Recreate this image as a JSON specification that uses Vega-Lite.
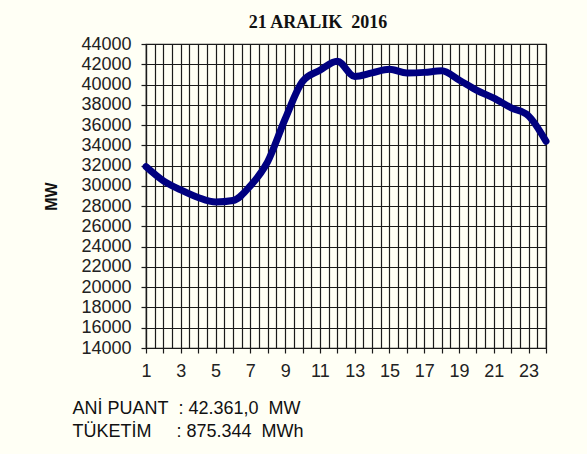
{
  "$schema": "https://vega.github.io/schema/vega-lite/v6.json",
  "width": 400,
  "height": 304,
  "autosize": {"type": "none"},
  "padding": {"left": 146, "top": 44, "right": 41, "bottom": 106},
  "background": "#fffff5",
  "title": {
    "text": "21 ARALIK\u00a0 2016",
    "font": "Liberation Serif",
    "fontSize": 18,
    "fontWeight": "bold",
    "color": "#111111",
    "anchor": "middle",
    "frame": "group",
    "baseline": "alphabetic",
    "dx": -28,
    "dy": 27,
    "offset": 16
  },
  "data": {
    "values": [
      {"hour": 1, "MW": 31900},
      {"hour": 2, "MW": 30500},
      {"hour": 3, "MW": 29600},
      {"hour": 4, "MW": 28850},
      {"hour": 5, "MW": 28400},
      {"hour": 6, "MW": 28550},
      {"hour": 7, "MW": 30000},
      {"hour": 8, "MW": 32400},
      {"hour": 9, "MW": 36600},
      {"hour": 10, "MW": 40300},
      {"hour": 11, "MW": 41400},
      {"hour": 12, "MW": 42300},
      {"hour": 13, "MW": 40800},
      {"hour": 14, "MW": 41150},
      {"hour": 15, "MW": 41500},
      {"hour": 16, "MW": 41150},
      {"hour": 17, "MW": 41200},
      {"hour": 18, "MW": 41350},
      {"hour": 19, "MW": 40450},
      {"hour": 20, "MW": 39450},
      {"hour": 21, "MW": 38650},
      {"hour": 22, "MW": 37700},
      {"hour": 23, "MW": 36900},
      {"hour": 24, "MW": 34400}
    ]
  },
  "mark": {
    "type": "line",
    "interpolate": "monotone",
    "color": "#000080",
    "strokeWidth": 7,
    "strokeCap": "round",
    "strokeJoin": "round"
  },
  "encoding": {
    "x": {
      "field": "hour",
      "type": "quantitative",
      "scale": {"domain": [1, 24], "nice": false, "zero": false},
      "axis": {
        "values": [1, 1.5, 2, 2.5, 3, 3.5, 4, 4.5, 5, 5.5, 6, 6.5, 7, 7.5, 8, 8.5, 9, 9.5, 10, 10.5, 11, 11.5, 12, 12.5, 13, 13.5, 14, 14.5, 15, 15.5, 16, 16.5, 17, 17.5, 18, 18.5, 19, 19.5, 20, 20.5, 21, 21.5, 22, 22.5, 23, 23.5, 24],
        "labelExpr": "datum.value % 2 == 1 ? format(datum.value, 'd') : ''",
        "labelOverlap": false,
        "labelFlush": false,
        "labelPadding": 9,
        "tickSize": 5,
        "tickOpacity": {"condition": {"test": "datum.value % 1 != 0", "value": 0}, "value": 1},
        "grid": true,
        "title": ["ANİ PUANT\u00a0 : 42.361,0\u00a0 MW", "TÜKETİM\u00a0\u00a0\u00a0\u00a0 : 875.344\u00a0 MWh"],
        "titleX": -74,
        "titleY": 65,
        "titleAlign": "left",
        "titleAnchor": "start",
        "titleBaseline": "alphabetic",
        "titleFont": "Liberation Sans",
        "titleFontSize": 18,
        "titleFontWeight": "normal",
        "titleLineHeight": 23.5,
        "titleColor": "#111111"
      }
    },
    "y": {
      "field": "MW",
      "type": "quantitative",
      "scale": {"domain": [14000, 44000], "nice": false, "zero": false},
      "axis": {
        "values": [14000, 16000, 18000, 20000, 22000, 24000, 26000, 28000, 30000, 32000, 34000, 36000, 38000, 40000, 42000, 44000],
        "format": "d",
        "labelOverlap": false,
        "labelFlush": false,
        "labelPadding": 10,
        "tickSize": 5,
        "grid": true,
        "title": "MW",
        "titleFont": "Liberation Sans",
        "titleFontSize": 16,
        "titleFontWeight": "bold",
        "titleColor": "#111111",
        "titleAngle": -90,
        "titleX": -95,
        "titleY": 152,
        "titleAlign": "center",
        "titleBaseline": "middle"
      }
    }
  },
  "config": {
    "view": {"stroke": "#1a1a1a", "strokeWidth": 1.2, "fill": "#fffff5"},
    "axis": {
      "domain": true,
      "domainColor": "#1a1a1a",
      "domainWidth": 1.2,
      "gridColor": "#1a1a1a",
      "gridWidth": 1.2,
      "gridOpacity": 1,
      "tickColor": "#1a1a1a",
      "tickWidth": 1.2,
      "labelFont": "Liberation Sans",
      "labelFontSize": 18,
      "labelColor": "#222222"
    }
  }
}
